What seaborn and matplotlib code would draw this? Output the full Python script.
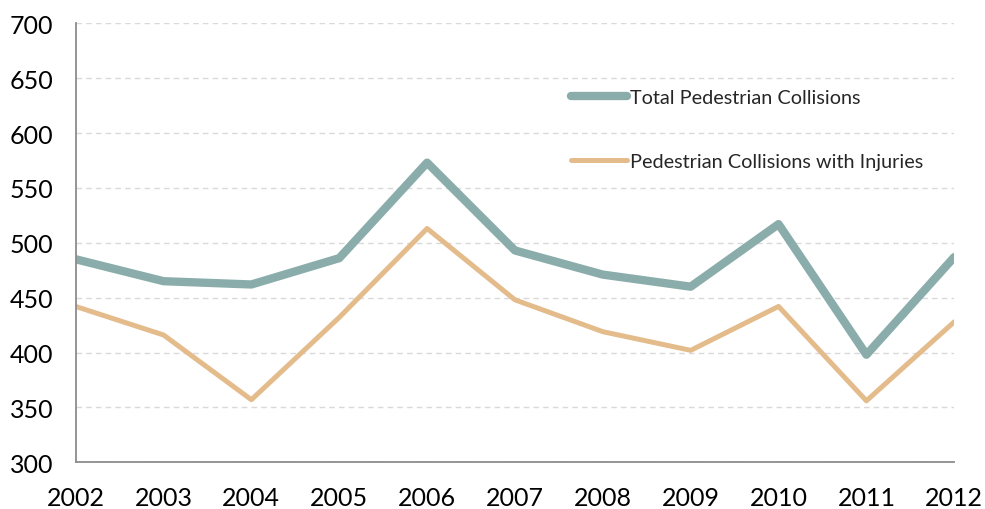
# Pedestrian collisions 2002-2012: total vs with injuries
import pandas as pd
import seaborn as sns
import matplotlib.pyplot as plt

years = [2002, 2003, 2004, 2005, 2006, 2007, 2008, 2009, 2010, 2011, 2012]
total = [485, 465, 462, 486, 573, 493, 471, 460, 517, 398, 487]
injuries = [442, 416, 357, 432, 513, 448, 419, 402, 442, 356, 428]
labels = ['Total Pedestrian Collisions', 'Pedestrian Collisions with Injuries']

teal = '#8aadab'
tan = '#e4bc8c'

sns.set_style('white')
plt.rcParams['font.family'] = ['Lato', 'DejaVu Sans']

df = pd.DataFrame({'year': years, 'total': total, 'injuries': injuries})

fig = plt.figure(figsize=(9.85, 5.1), dpi=100)
ax = fig.add_axes([0.0768, 0.0916, 0.892, 0.8608])

ax.yaxis.grid(True, color='#d9d9d9', linestyle=(0, (4, 3)), linewidth=1)
ax.set_axisbelow(True)

sns.lineplot(data=df, x='year', y='total', ax=ax, color=teal, linewidth=6,
             label=labels[0], solid_capstyle='round')
sns.lineplot(data=df, x='year', y='injuries', ax=ax, color=tan, linewidth=3.6,
             label=labels[1], solid_capstyle='round')

ax.set_xlim(2002, 2012)
ax.set_ylim(300, 700)
ax.set_xticks(years)
ax.set_yticks(range(300, 701, 50))
ax.set_xlabel('')
ax.set_ylabel('')

for s in ['top', 'right']:
    ax.spines[s].set_visible(False)
for s in ['left', 'bottom']:
    ax.spines[s].set_color('#8c8c8c')
    ax.spines[s].set_linewidth(1.3)

ax.tick_params(axis='both', direction='out', length=6, width=1.2, color='#8c8c8c',
               labelsize=18, labelcolor='black')
ax.tick_params(axis='x', pad=11)
ax.tick_params(axis='y', pad=10)

leg = ax.legend(loc='upper left', bbox_to_anchor=(0.552, 0.873), frameon=False,
                fontsize=14.3, handlelength=2.83, handletextpad=0.15, labelspacing=2.36,
                borderpad=0)

plt.savefig('out.png', dpi=100)
plt.close()
